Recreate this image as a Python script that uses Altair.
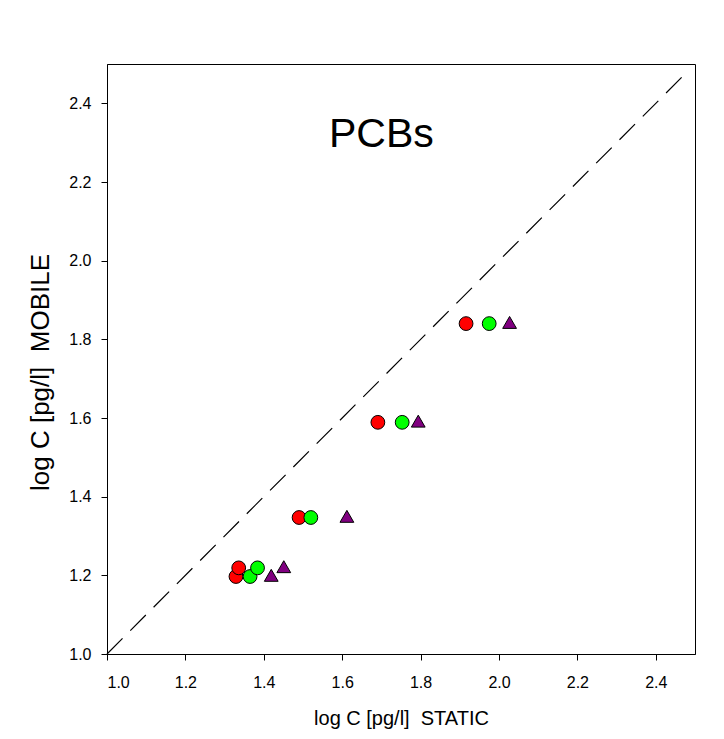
import altair as alt
import pandas as pd

# --- data ---
series_names = ["Series A", "Series B", "Series C"]
series_colors = ["#FF0000", "#00FF00", "#800080"]
series_shapes = ["circle", "circle", "triangle-up"]
series_sizes = [190, 190, 300]

a_static = [1.916, 1.691, 1.490, 1.329, 1.336]
a_mobile = [1.840, 1.589, 1.347, 1.197, 1.219]

b_static = [1.975, 1.753, 1.520, 1.365, 1.384]
b_mobile = [1.840, 1.589, 1.347, 1.197, 1.219]

c_static = [2.027, 1.794, 1.612, 1.419, 1.451]
c_mobile = [1.843, 1.592, 1.350, 1.200, 1.222]

diag_vals = [1.0, 2.48]
title_text = ["PCBs"]
title_x = [1.70]
title_y = [2.32]

x_ticks = [1.0, 1.2, 1.4, 1.6, 1.8, 2.0, 2.2, 2.4]
y_ticks = [1.0, 1.2, 1.4, 1.6, 1.8, 2.0, 2.2, 2.4]

rows = []
for name, xs, ys in zip(series_names, [a_static, b_static, c_static], [a_mobile, b_mobile, c_mobile]):
    for xv, yv in zip(xs, ys):
        rows.append({"series": name, "static": xv, "mobile": yv})
df = pd.DataFrame(rows)
diag = pd.DataFrame({"static": diag_vals, "mobile": diag_vals})
tdf = pd.DataFrame({"t": title_text, "x": title_x, "y": title_y})

FONT = "Liberation Sans"

xscale = alt.Scale(domain=[1.0, 2.5], nice=False, zero=False)
yscale = alt.Scale(domain=[1.0, 2.5], nice=False, zero=False)

xaxis = alt.Axis(values=x_ticks, format=".1f", title="log C [pg/l]\u00a0 STATIC",
                 grid=False, tickSize=6, tickColor="#000", domainColor="#000",
                 labelFont=FONT, labelFontSize=16, labelColor="#000", labelPadding=14,
                 titleFont=FONT, titleFontSize=20, titleFontWeight="normal",
                 titleColor="#000", titlePadding=18)
yaxis = alt.Axis(values=y_ticks, format=".1f", title="log C [pg/l]\u00a0 MOBILE",
                 grid=False, tickSize=6, tickColor="#000", domainColor="#000",
                 labelFont=FONT, labelFontSize=16, labelColor="#000", labelPadding=10,
                 titleFont=FONT, titleFontSize=26, titleFontWeight="normal",
                 titleColor="#000", titlePadding=15, titleY=308)

line = alt.Chart(diag).mark_line(color="#000", strokeWidth=1.2, strokeDash=[22, 11]).encode(
    x=alt.X("static:Q", scale=xscale, axis=xaxis),
    y=alt.Y("mobile:Q", scale=yscale, axis=yaxis),
)

pts = alt.Chart(df).mark_point(filled=True, stroke="#000", strokeWidth=1, opacity=1).encode(
    x=alt.X("static:Q", scale=xscale),
    y=alt.Y("mobile:Q", scale=yscale),
    color=alt.Color("series:N", scale=alt.Scale(domain=series_names, range=series_colors), legend=None),
    fill=alt.Fill("series:N", scale=alt.Scale(domain=series_names, range=series_colors), legend=None),
    shape=alt.Shape("series:N", scale=alt.Scale(domain=series_names, range=series_shapes), legend=None),
    size=alt.Size("series:N", scale=alt.Scale(domain=series_names, range=series_sizes), legend=None),
)

txt = alt.Chart(tdf).mark_text(font=FONT, fontSize=41, color="#000").encode(
    x=alt.X("x:Q", scale=xscale),
    y=alt.Y("y:Q", scale=yscale),
    text="t:N",
)

chart = alt.layer(line, pts, txt).properties(
    width=588, height=590,
    autosize=alt.AutoSizeParams(type="none"),
    padding={"left": 99, "top": 56, "right": 20, "bottom": 80},
    background="#FFFFFF",
).configure_view(stroke="#000", strokeWidth=1)

chart.save("out.html", embed_options={"renderer": "svg", "actions": False})
